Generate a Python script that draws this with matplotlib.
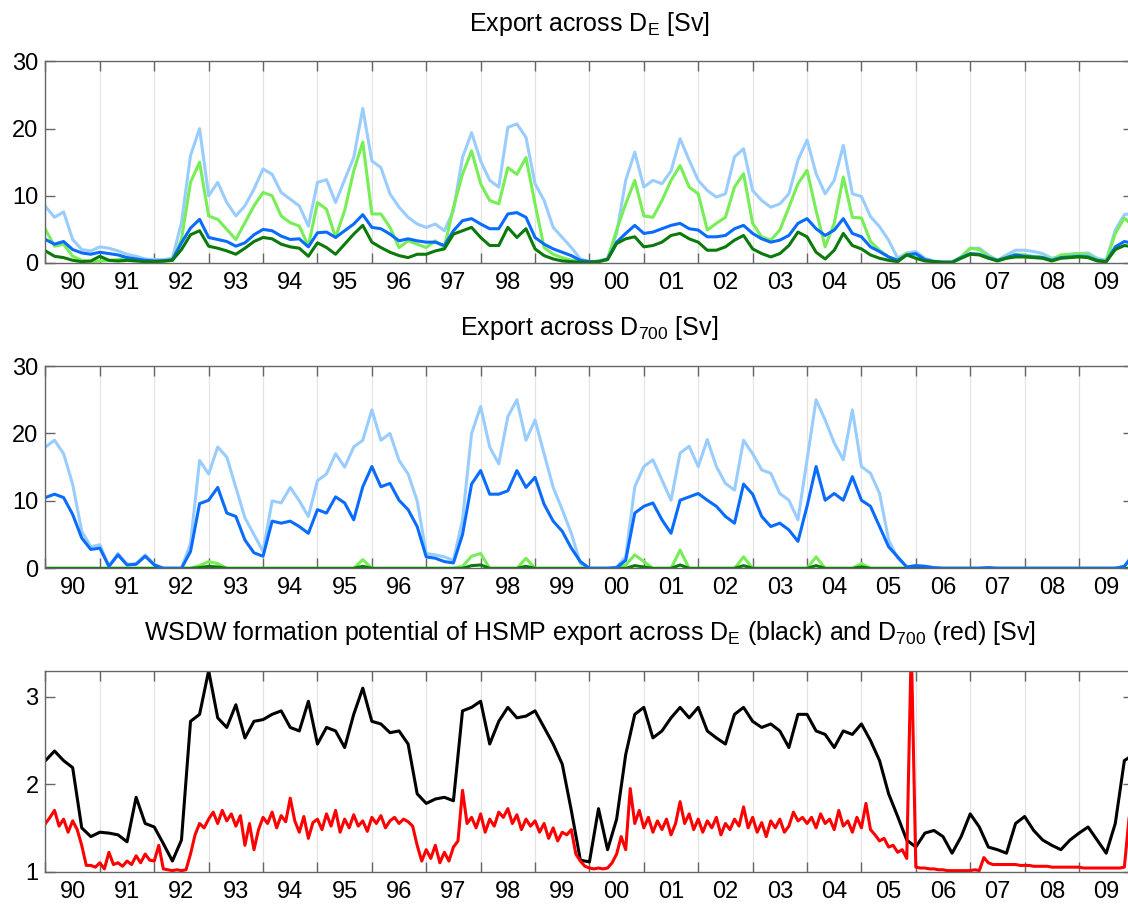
import numpy as np
import matplotlib.pyplot as plt

plt.rcParams['font.family'] = ['Liberation Sans', 'DejaVu Sans']
plt.rcParams['mathtext.fontset'] = 'custom'
plt.rcParams['mathtext.rm'] = 'Liberation Sans'
plt.rcParams['mathtext.it'] = 'Liberation Sans:italic'

# time axis: 6 samples per year, 12 per year for the noisy red series
t6 = 1990 + np.arange(121) / 6.0
t12 = 1990 + np.arange(241) / 12.0
year_labels = ['%02d' % (y % 100) for y in range(1990, 2010)]

# --- export across D_E [Sv] ---
de_light_blue = [
    8.4, 6.8, 7.6, 3.5, 2.0, 1.8,
    2.4, 2.2, 1.8, 1.3, 1.0, 0.6,
    0.5, 0.5, 0.7, 6.0, 16.0, 20.0,
    10.0, 12.0, 9.0, 7.0, 8.5, 11.0,
    14.0, 13.2, 10.5, 9.5, 8.5, 5.5,
    12.0, 12.4, 9.0, 12.4, 15.7, 23.0,
    15.2, 14.2, 10.3, 8.3, 6.8, 5.8,
    5.3, 5.8, 4.8, 7.8, 15.7, 19.4,
    15.2, 12.3, 11.3, 20.2, 20.7, 18.7,
    11.8, 9.3, 5.3, 3.8, 2.3, 0.6,
    0.2, 0.3, 0.6, 4.4, 12.3, 16.5,
    11.3, 12.3, 11.8, 13.7, 18.5, 15.3,
    12.3, 10.8, 9.8, 10.3, 15.8, 17.0,
    10.8, 9.3, 8.3, 8.8, 10.3, 15.3,
    18.3, 13.3, 10.3, 12.3, 17.5, 10.3,
    9.9, 6.9, 5.4, 3.4, 0.7, 1.5,
    1.7, 0.7, 0.3, 0.2, 0.2, 0.9,
    2.2, 2.2, 1.2, 0.4, 1.2, 1.9,
    1.9, 1.7, 1.4, 0.7, 1.0, 1.3,
    1.4, 1.5, 0.7, 0.4, 4.9, 7.2,
    7.4]
de_light_green = [
    5.0, 2.5, 2.8, 1.0, 0.4, 0.2,
    0.3, 0.4, 0.5, 0.8, 0.4, 0.2,
    0.1, 0.2, 0.4, 3.5, 12.0, 15.0,
    7.0, 6.5, 5.0, 3.5, 6.0, 8.5,
    10.5, 10.0, 7.0, 6.0, 5.5, 2.5,
    9.0, 8.0, 3.8, 7.8, 13.7, 18.0,
    7.3, 7.3, 5.3, 2.3, 3.3, 2.8,
    2.3, 3.3, 2.3, 8.3, 13.2, 16.7,
    11.8, 9.3, 8.8, 14.2, 13.2, 15.7,
    8.8, 2.3, 1.3, 0.8, 0.4, 0.3,
    0.1, 0.3, 0.6, 4.9, 8.8, 12.3,
    7.0, 6.8, 9.3, 12.3, 14.5, 11.3,
    10.3, 4.9, 5.9, 6.8, 11.3, 13.3,
    5.9, 3.9, 3.4, 4.9, 8.3, 11.8,
    13.8, 7.8, 2.4, 5.9, 12.8, 6.8,
    6.7, 3.2, 1.9, 0.9, 0.4, 1.4,
    1.2, 0.5, 0.2, 0.1, 0.1, 0.9,
    2.2, 2.0, 1.0, 0.4, 0.9, 1.3,
    1.2, 1.0, 0.9, 0.5, 1.2, 1.3,
    1.4, 1.2, 0.5, 0.3, 4.4, 6.7,
    5.4]
de_blue = [
    3.5, 2.8, 3.2, 2.0, 1.5, 1.3,
    1.6, 1.4, 1.2, 0.8, 0.6, 0.4,
    0.3, 0.3, 0.5, 3.0, 5.2, 6.5,
    3.8, 3.5, 3.2, 2.5, 3.0, 4.2,
    5.0, 4.8, 4.0, 3.5, 3.6, 2.4,
    4.5, 4.6, 3.8, 4.8, 5.8, 7.2,
    5.3, 5.1, 4.3, 3.3, 3.6, 3.3,
    3.1, 3.1, 2.6, 4.8, 6.3, 6.6,
    5.8, 5.1, 5.1, 7.3, 7.5, 6.8,
    3.8, 2.8, 2.1, 1.6, 1.1, 0.4,
    0.2, 0.2, 0.6, 3.1, 4.4, 5.6,
    4.4, 4.6, 5.1, 5.6, 5.9, 5.1,
    4.9, 3.9, 3.9, 4.1, 5.1, 5.6,
    4.4, 3.6, 3.1, 3.4, 4.1, 5.9,
    6.6, 5.1, 4.1, 4.9, 6.6, 4.4,
    3.9, 2.4, 1.7, 0.9, 0.4, 1.2,
    1.4, 0.5, 0.2, 0.1, 0.1, 0.8,
    1.4, 1.3, 0.8, 0.4, 0.8, 1.2,
    1.0, 0.9, 0.8, 0.4, 0.8, 0.9,
    1.0, 0.9, 0.4, 0.2, 2.4, 3.2,
    2.9]
de_dark_green = [
    1.8, 1.0, 0.8, 0.4, 0.2, 0.3,
    1.0, 0.4, 0.3, 0.4, 0.3, 0.2,
    0.2, 0.3, 0.4, 2.0, 4.2, 4.8,
    2.5, 2.2, 1.8, 1.3, 2.2, 3.2,
    3.8, 3.6, 2.8, 2.4, 2.2, 1.0,
    3.0, 2.3, 1.3, 2.8, 4.3, 5.6,
    3.1, 2.3, 1.6, 1.1, 0.8, 1.3,
    1.3, 1.8, 2.1, 4.3, 4.8, 5.3,
    3.8, 2.6, 2.6, 5.3, 3.8, 5.1,
    2.1, 1.1, 0.6, 0.3, 0.2, 0.1,
    0.1, 0.2, 0.5, 2.9, 3.6, 3.9,
    2.4, 2.6, 3.1, 4.1, 4.4, 3.6,
    3.1, 1.9, 1.9, 2.4, 3.4, 4.1,
    2.1, 1.4, 0.9, 1.4, 2.6, 4.6,
    3.9, 1.6, 0.6, 1.9, 4.4, 2.6,
    2.1, 1.2, 0.7, 0.4, 0.2, 1.2,
    0.7, 0.3, 0.2, 0.1, 0.1, 0.7,
    1.3, 1.2, 0.7, 0.3, 0.7, 0.9,
    0.9, 0.8, 0.7, 0.3, 0.7, 0.8,
    0.9, 0.8, 0.3, 0.2, 2.0, 2.6,
    2.4]

# --- export across D_700 [Sv] ---
d700_light_blue = [
    18.0, 19.0, 17.0, 12.5, 5.5, 3.2,
    3.5, 0.3, 2.2, 0.6, 0.7, 2.0,
    0.6, 0.0, 0.0, 0.0, 3.7, 16.0,
    14.0, 18.0, 16.5, 12.0, 7.5, 5.0,
    2.5, 10.0, 9.7, 12.0, 10.0, 7.7,
    13.0, 14.0, 17.0, 15.0, 18.0, 19.0,
    23.5, 19.0, 20.0, 16.0, 14.0, 10.0,
    2.2, 2.0, 1.7, 1.2, 7.2, 20.0,
    24.0, 18.0, 15.5, 22.5, 25.0, 19.0,
    22.0, 17.0, 12.0, 8.7, 5.2, 0.7,
    0.0, 0.0, 0.0, 0.2, 1.7, 12.1,
    15.1, 16.1, 13.1, 10.1, 17.1, 18.1,
    15.1, 19.1, 15.1, 12.6, 11.6, 19.0,
    17.0, 14.6, 14.1, 11.1, 10.1, 7.2,
    16.1, 25.0, 22.0, 18.6, 16.1, 23.5,
    15.1, 14.1, 11.1, 4.2, 1.5, 0.2,
    0.4, 0.3, 0.1, 0.0, 0.0, 0.0,
    0.0, 0.0, 0.1, 0.0, 0.0, 0.0,
    0.0, 0.0, 0.0, 0.0, 0.0, 0.0,
    0.0, 0.0, 0.0, 0.0, 0.0, 0.3,
    2.2]
d700_light_green = [
    0, 0, 0, 0, 0, 0,
    0, 0, 0, 0, 0, 0,
    0, 0, 0, 0, 0, 0.4,
    1.0, 0.7, 0, 0, 0, 0,
    0, 0, 0, 0, 0, 0,
    0, 0, 0, 0, 0, 1.3,
    0, 0, 0, 0, 0, 0,
    0, 0, 0, 0, 0.3, 1.8,
    2.2, 0, 0, 0, 0, 1.5,
    0, 0, 0, 0, 0, 0,
    0, 0, 0, 0, 0.5, 2.0,
    1.0, 0, 0, 0, 2.7, 0,
    0, 0, 0, 0, 0, 1.7,
    0, 0, 0, 0, 0, 0,
    0, 1.7, 0, 0, 0, 0,
    0.7, 0, 0, 0, 0, 0,
    0, 0, 0, 0, 0, 0,
    0, 0, 0, 0, 0, 0,
    0, 0, 0, 0, 0, 0,
    0, 0, 0, 0, 0, 0,
    0]
d700_blue = [
    10.5, 11.0, 10.5, 8.0, 4.5, 2.8,
    3.0, 0.3, 2.0, 0.5, 0.6, 1.8,
    0.5, 0.0, 0.0, 0.0, 2.5, 9.6,
    10.1, 12.0, 8.2, 7.7, 4.2, 2.3,
    1.8, 7.0, 6.7, 7.0, 6.2, 5.2,
    8.7, 8.2, 10.6, 9.7, 7.2, 12.1,
    15.1, 12.1, 12.6, 10.1, 8.7, 6.2,
    1.7, 1.5, 1.0, 0.8, 5.0, 12.5,
    14.5, 11.0, 11.0, 11.5, 14.5, 12.0,
    13.5, 9.5, 7.0, 5.5, 3.0, 1.0,
    0.0, 0.0, 0.0, 0.1, 1.2, 8.2,
    9.2, 9.7, 7.2, 5.2, 10.1, 10.6,
    11.1, 10.1, 9.2, 7.7, 6.7, 12.5,
    11.0, 7.7, 6.2, 6.7, 5.7, 4.0,
    9.2, 15.1, 10.1, 11.1, 10.1, 13.6,
    10.1, 9.2, 6.2, 3.2, 1.7, 0.2,
    0.4, 0.3, 0.1, 0.0, 0.0, 0.0,
    0.0, 0.0, 0.1, 0.0, 0.0, 0.0,
    0.0, 0.0, 0.0, 0.0, 0.0, 0.0,
    0.0, 0.0, 0.0, 0.0, 0.0, 0.3,
    2.0]
d700_dark_green = [
    0, 0, 0, 0, 0, 0,
    0, 0, 0, 0, 0, 0,
    0, 0, 0, 0, 0, 0.1,
    0.3, 0.2, 0, 0, 0, 0,
    0, 0, 0, 0, 0, 0,
    0, 0, 0, 0, 0, 0.3,
    0, 0, 0, 0, 0, 0,
    0, 0, 0, 0, 0, 0.4,
    0.5, 0, 0, 0, 0, 0.3,
    0, 0, 0, 0, 0, 0,
    0, 0, 0, 0, 0, 0.4,
    0.2, 0, 0, 0, 0.5, 0,
    0, 0, 0, 0, 0, 0.4,
    0, 0, 0, 0, 0, 0,
    0, 0.4, 0, 0, 0, 0,
    0.2, 0, 0, 0, 0, 0,
    0, 0, 0, 0, 0, 0,
    0, 0, 0, 0, 0, 0,
    0, 0, 0, 0, 0, 0,
    0, 0, 0, 0, 0, 0,
    0]

# --- WSDW formation potential [Sv] ---
wsdw_de = [
    2.27, 2.38, 2.27, 2.19, 1.50, 1.40,
    1.45, 1.44, 1.42, 1.34, 1.85, 1.55,
    1.51, 1.32, 1.12, 1.36, 2.72, 2.80,
    3.30, 2.76, 2.65, 2.91, 2.53, 2.72,
    2.74, 2.80, 2.84, 2.65, 2.61, 2.95,
    2.46, 2.65, 2.61, 2.42, 2.80, 3.10,
    2.72, 2.69, 2.59, 2.61, 2.46, 1.89,
    1.78, 1.83, 1.85, 1.81, 2.84, 2.88,
    2.95, 2.46, 2.72, 2.88, 2.76, 2.78,
    2.84, 2.65, 2.46, 2.23, 1.70, 1.13,
    1.11, 1.72, 1.25, 1.60, 2.34, 2.80,
    2.88, 2.53, 2.61, 2.76, 2.88, 2.76,
    2.88, 2.61, 2.53, 2.46, 2.80, 2.88,
    2.72, 2.65, 2.69, 2.61, 2.42, 2.80,
    2.80, 2.61, 2.57, 2.42, 2.61, 2.57,
    2.69, 2.50, 2.27, 1.89, 1.63, 1.36,
    1.28, 1.44, 1.47, 1.40, 1.21, 1.40,
    1.66, 1.51, 1.28, 1.25, 1.21, 1.55,
    1.63, 1.47, 1.36, 1.30, 1.25, 1.36,
    1.44, 1.51, 1.36, 1.21, 1.55, 2.27,
    2.34]
wsdw_d700 = [
    1.55, 1.62, 1.70, 1.52, 1.60, 1.45, 1.58, 1.48, 1.30, 1.07, 1.07, 1.05,
    1.10, 1.03, 1.22, 1.08, 1.10, 1.06, 1.12, 1.08, 1.18, 1.10, 1.20, 1.13,
    1.12, 1.30, 1.03, 1.02, 1.01, 1.02, 1.01, 1.02, 1.20, 1.42, 1.55, 1.50,
    1.60, 1.68, 1.55, 1.70, 1.58, 1.66, 1.52, 1.64, 1.30, 1.55, 1.25, 1.48,
    1.62, 1.55, 1.68, 1.50, 1.64, 1.57, 1.84, 1.58, 1.45, 1.63, 1.38, 1.56,
    1.60, 1.48, 1.66, 1.52, 1.70, 1.45, 1.60, 1.50, 1.65, 1.52, 1.58, 1.46,
    1.62, 1.55, 1.64, 1.50, 1.58, 1.62, 1.55, 1.60, 1.57, 1.52, 1.30, 1.12,
    1.25, 1.15, 1.30, 1.10, 1.22, 1.12, 1.28, 1.35, 1.93, 1.55, 1.62, 1.50,
    1.66, 1.45, 1.60, 1.52, 1.68, 1.62, 1.72, 1.55, 1.65, 1.48, 1.60, 1.52,
    1.58, 1.45, 1.55, 1.38, 1.50, 1.35, 1.45, 1.42, 1.48, 1.20, 1.12, 1.06,
    1.04, 1.03, 1.04, 1.03, 1.04, 1.10, 1.20, 1.40, 1.25, 1.95, 1.55, 1.70,
    1.50, 1.62, 1.45, 1.58, 1.48, 1.60, 1.42, 1.55, 1.80, 1.55, 1.66, 1.48,
    1.60, 1.45, 1.58, 1.50, 1.62, 1.42, 1.55, 1.48, 1.60, 1.52, 1.74, 1.50,
    1.62, 1.45, 1.56, 1.40, 1.58, 1.50, 1.60, 1.45, 1.52, 1.68, 1.58, 1.62,
    1.55, 1.62, 1.50, 1.66, 1.55, 1.60, 1.48, 1.70, 1.52, 1.58, 1.45, 1.62,
    1.50, 1.78, 1.48, 1.42, 1.35, 1.38, 1.28, 1.30, 1.22, 1.25, 1.15, 3.60,
    1.05, 1.04, 1.04, 1.03, 1.03, 1.02, 1.02, 1.01, 1.01, 1.01, 1.01, 1.01,
    1.01, 1.02, 1.01, 1.16, 1.10, 1.08, 1.08, 1.08, 1.08, 1.08, 1.08, 1.07,
    1.07, 1.07, 1.06, 1.06, 1.06, 1.06, 1.05, 1.05, 1.05, 1.05, 1.05, 1.05,
    1.05, 1.04, 1.04, 1.04, 1.04, 1.04, 1.04, 1.04, 1.04, 1.04, 1.05, 1.60,
    1.85]

c_lblue = '#99ccff'
c_blue = '#0a6cff'
c_lgreen = '#77ee55'
c_dgreen = '#0b7a0b'
frame = '#666666'
lw = 2.2
fs = 17


def style_axis(ax, ylim, yticks):
    ax.set_xlim(1990, 2010)
    ax.set_ylim(*ylim)
    ax.set_xticks(np.arange(1990, 2011))
    ax.set_xticklabels([])
    ax.set_xticks(np.arange(1990.5, 2010), minor=True)
    ax.set_xticklabels(year_labels, minor=True)
    ax.tick_params(axis='x', which='major', direction='in', top=True,
                   bottom=True, length=7.5, width=1, color=frame)
    ax.tick_params(axis='x', which='minor', length=0, pad=6.5, labelsize=fs)
    ax.set_yticks(yticks)
    ax.tick_params(axis='y', direction='in', left=True, right=True,
                   length=7.5, width=1, color=frame, labelsize=fs, pad=5)
    ax.grid(axis='x', which='major', color='#e4e4e4', linewidth=0.9)
    ax.set_axisbelow(True)
    for s in ax.spines.values():
        s.set_color(frame)
        s.set_linewidth(1.0)


def title(ax, text):
    ax.text(0.5, 1.153, text, transform=ax.transAxes, ha='center',
            va='baseline', fontsize=18)


fig = plt.figure(figsize=(11.28, 9.05), dpi=100)
ax1 = fig.add_axes([0.0403, 0.7094, 0.9645, 0.2227])
ax2 = fig.add_axes([0.0403, 0.3720, 0.9645, 0.2235])
ax3 = fig.add_axes([0.0403, 0.0370, 0.9645, 0.2219])

ax1.plot(t6, de_light_blue, color=c_lblue, lw=lw)
ax1.plot(t6, de_light_green, color=c_lgreen, lw=lw)
ax1.plot(t6, de_blue, color=c_blue, lw=lw)
ax1.plot(t6, de_dark_green, color=c_dgreen, lw=lw)
style_axis(ax1, (0, 30), [0, 10, 20, 30])
title(ax1, r'Export across D$_{\mathrm{E}}$ [Sv]')

ax2.plot(t6, d700_light_blue, color=c_lblue, lw=lw)
ax2.plot(t6, d700_light_green, color=c_lgreen, lw=lw)
ax2.plot(t6, d700_dark_green, color=c_dgreen, lw=lw)
ax2.plot(t6, d700_blue, color=c_blue, lw=lw)
style_axis(ax2, (0, 30), [0, 10, 20, 30])
title(ax2, r'Export across D$_{\mathrm{700}}$ [Sv]')

ax3.plot(t6, wsdw_de, color='black', lw=lw)
ax3.plot(t12, wsdw_d700, color='#ff0000', lw=lw)
style_axis(ax3, (1, 3.3), [1, 2, 3])
title(ax3, r'WSDW formation potential of HSMP export across D$_{\mathrm{E}}$'
           r' (black) and D$_{\mathrm{700}}$ (red) [Sv]')

fig.savefig('out.png', dpi=100)
